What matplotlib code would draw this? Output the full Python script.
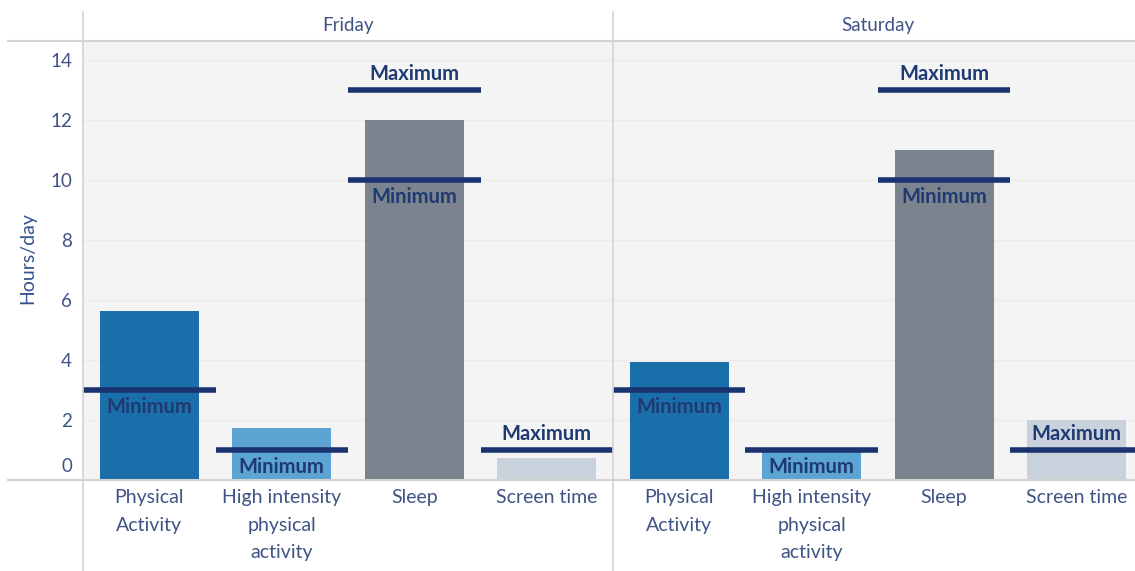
import matplotlib
matplotlib.use("Agg")
import matplotlib.pyplot as plt
import matplotlib.transforms as mtransforms
from matplotlib.lines import Line2D

# ---- data ----
categories = ["Physical\nActivity", "High intensity\nphysical\nactivity", "Sleep", "Screen time"]
days = ["Friday", "Saturday"]
friday_hours = [5.65, 1.73, 12.0, 0.75]
saturday_hours = [3.95, 0.97, 11.0, 2.0]
minimum_hours = [3, 1, 10, None]
maximum_hours = [None, None, 13, 1]
yticks = [0, 2, 4, 6, 8, 10, 12, 14]

bar_colors = ["#1a6ea9", "#5ca4d4", "#7b838e", "#c9d2dc"]
line_color = "#1b3370"
text_color = "#1f3a73"
label_color = "#3f5385"
bg_color = "#f4f4f4"
sep_color = "#d3d3d3"

plt.rcParams['font.family'] = ['Lato', 'DejaVu Sans']

W, H = 1135, 571
fig = plt.figure(figsize=(W / 100, H / 100), dpi=100)
fig.patch.set_facecolor("white")

def fx(px):
    return px / W

def fy(py):
    return 1 - py / H

y_top_px, y_base_px = 41, 480
panels = [(83, 613, (-0.5, 3.5)), (613, 1135, (-0.5, 3.44))]
series = [friday_hours, saturday_hours]

axes = []
for i, ((x0, x1, xl), vals) in enumerate(zip(panels, series)):
    ax = fig.add_axes([fx(x0), fy(y_base_px), fx(x1 - x0), (y_base_px - y_top_px) / H])
    ax.set_facecolor(bg_color)
    ax.set_xlim(*xl)
    ax.set_ylim(0, (y_base_px - y_top_px) / 30.0)
    for s in ax.spines.values():
        s.set_visible(False)
    ax.set_yticks(yticks)
    ax.grid(axis="y", color="#ebebeb", linewidth=1.0)
    ax.set_axisbelow(True)
    xs = list(range(len(categories)))
    ax.bar(xs, vals, width=0.75, color=bar_colors, zorder=2)
    for xi in xs:
        mn = minimum_hours[xi]
        mx = maximum_hours[xi]
        if mn is not None:
            ax.hlines(mn, xi - 0.5, xi + 0.5, color=line_color, linewidth=4, zorder=3)
            ax.annotate("Minimum", (xi, mn), xytext=(0, -17), textcoords="offset pixels",
                        ha="center", va="center", fontsize=14.5, fontweight="bold",
                        color=text_color, zorder=4)
        if mx is not None:
            ax.hlines(mx, xi - 0.5, xi + 0.5, color=line_color, linewidth=4, zorder=3)
            ax.annotate("Maximum", (xi, mx), xytext=(0, 16), textcoords="offset pixels",
                        ha="center", va="center", fontsize=14.5, fontweight="bold",
                        color=text_color, zorder=4)
    ax.set_xticks(xs)
    ax.set_xticklabels([""] * len(xs))
    ax.tick_params(axis="x", length=0)
    # category labels as text in blended coordinates (data x, pixel offset below axis)
    trans = mtransforms.blended_transform_factory(ax.transData, ax.transAxes)
    for xi, cat in zip(xs, categories):
        ax.annotate(cat, (xi, 0), xycoords=trans, xytext=(0, -9), textcoords="offset pixels",
                    ha="center", va="top", fontsize=14, color=label_color,
                    linespacing=1.75, annotation_clip=False)
    ax.tick_params(axis="y", length=0, pad=8, labelsize=13.5, labelcolor=label_color)
    if i == 0:
        ax.set_yticklabels([str(t) for t in yticks])
        lbl0 = ax.get_yticklabels()[0]
        lbl0.set_transform(lbl0.get_transform() + mtransforms.ScaledTranslation(0, 15 / 100, fig.dpi_scale_trans))
    else:
        ax.set_yticklabels([])
    # day header
    fig.text(fx((x0 + x0 + 530) / 2), fy(26), days[i], ha="center", va="center",
             fontsize=13.5, color=label_color)
    axes.append(ax)

# separators
for xp in (83, 613):
    fig.add_artist(Line2D([fx(xp), fx(xp)], [fy(12), fy(571)], color=sep_color, linewidth=1.2))
for yp in (41, 480):
    fig.add_artist(Line2D([fx(8), 1], [fy(yp), fy(yp)], color=sep_color, linewidth=1.5))

fig.text(fx(28), fy(258), "Hours/day", rotation=90, ha="center", va="center",
         fontsize=14, color="#34528f")

fig.savefig("out.png", dpi=100, facecolor="white")
